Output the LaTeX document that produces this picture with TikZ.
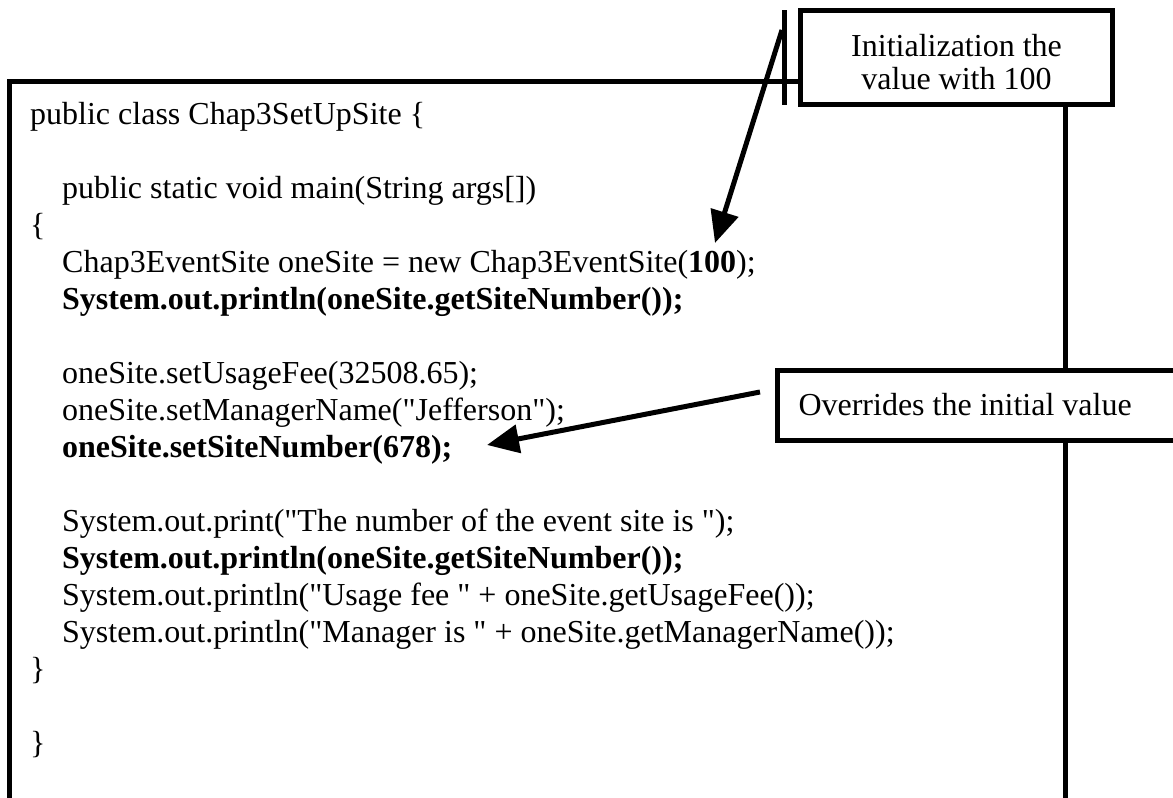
\documentclass[tikz,border=0pt]{standalone}
\usepackage{fontspec}
\setmainfont{Liberation Serif}
\usetikzlibrary{arrows.meta}
\newcommand{\guill}{\textquotedbl}

\begin{document}
\begin{tikzpicture}[x=1pt,y=-1pt,
    cadre/.style={line width=5pt},
    bulle/.style={draw,fill=white,line width=5pt,inner sep=0pt},
    fleche/.style={line width=5pt,-{Triangle[length=32pt,width=28pt]}},
    ligne/.style={anchor=base west,inner sep=0pt,font=\fontsize{32}{37}\selectfont}]
    \useasboundingbox (0,0) rectangle (1173,798);
    % définition des points
    \coordinate (bg) at (9,806);
    \coordinate (hg) at (9,81);
    \coordinate (hd) at (1065,81);
    \coordinate (bd) at (1065,806);
    \coordinate (barreh) at (784,10);
    \coordinate (barreb) at (784,105);
    % cadre du programme
    \draw[cadre] (bg) -- (hg) -- (hd) -- (bd);
    \draw[cadre] (barreh) -- (barreb);
    % texte du programme
    \node[ligne] (l1) at (30,124) {public class Chap3SetUpSite \{};
    \node[ligne] (l3) at (62,198) {public static void main(String args[])};
    \node[ligne] (l4) at (30,235) {\{};
    \node[ligne] (l5) at (62,272) {Chap3EventSite oneSite = new Chap3EventSite(\textbf{100});};
    \node[ligne] (l6) at (62,309) {\textbf{System.out.println(oneSite.getSiteNumber());}};
    \node[ligne] (l8) at (62,383) {oneSite.setUsageFee(32508.65);};
    \node[ligne] (l9) at (62,420) {oneSite.setManagerName(\guill Jefferson\guill);};
    \node[ligne] (l10) at (62,457) {\textbf{oneSite.setSiteNumber(678);}};
    \node[ligne] (l12) at (62,531) {System.out.print(\guill The number of the event site is \guill);};
    \node[ligne] (l13) at (62,568) {\textbf{System.out.println(oneSite.getSiteNumber());}};
    \node[ligne] (l14) at (62,605) {System.out.println(\guill Usage fee \guill\ + oneSite.getUsageFee());};
    \node[ligne] (l15) at (62,642) {System.out.println(\guill Manager is \guill\ + oneSite.getManagerName());};
    \node[ligne] (l16) at (30,679) {\}};
    \node[ligne] (l18) at (30,753) {\}};
    % bulles
    \node[bulle,minimum width=312pt,minimum height=94pt,
      font=\fontsize{32}{33}\selectfont] (init) at (956.5,57.5)
      {\raisebox{-9pt}[\height][\depth]{\begin{tabular}{@{}c@{}}Initialization the\\value with 100\end{tabular}}};
    \node[bulle,anchor=west,minimum height=70pt,inner xsep=21pt,text width=383pt,
      align=flush left,font=\fontsize{32}{37}\selectfont] (surcharge) at (775,405)
      {Overrides the initial value};
    % flèches
    \coordinate (depart1) at (782,30);
    \coordinate (cible1) at (715,243);
    \coordinate (depart2) at (760,392);
    \coordinate (cible2) at (487,445);
    \draw[fleche] (depart1) -- (cible1);
    \draw[fleche] (depart2) -- (cible2);
\end{tikzpicture}
\end{document}
